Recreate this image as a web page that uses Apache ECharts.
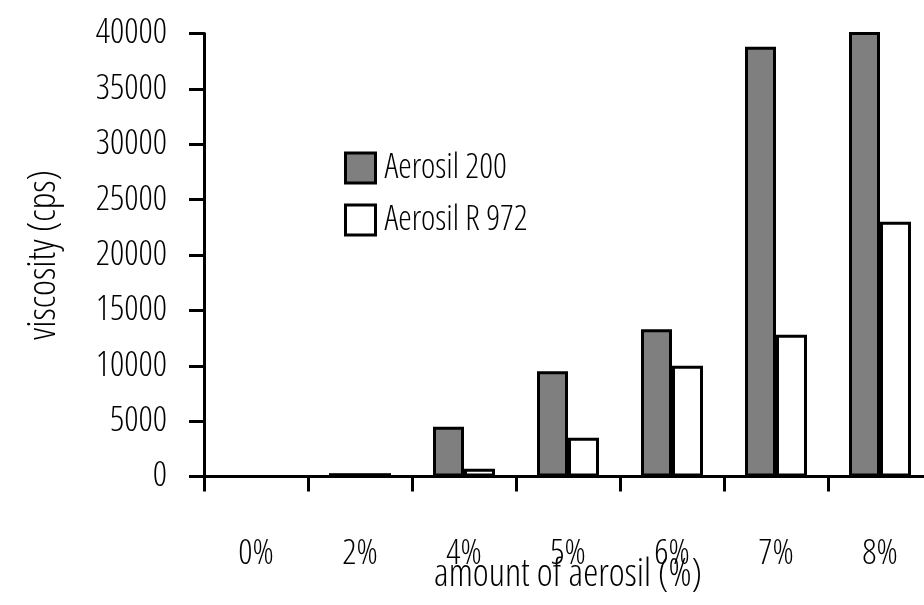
<!DOCTYPE html>
<html>
<head>
<meta charset="utf-8">
<script src="https://cdn.jsdelivr.net/npm/echarts@6/dist/echarts.min.js"></script>
<style>
html,body{margin:0;padding:0;background:#fff;}
#chart{width:924px;height:605px;}
</style>
</head>
<body>
<div id="chart"></div>
<script>
const categories = ['0%', '2%', '4%', '5%', '6%', '7%', '8%'];
const aerosil200 = [0, 300, 4500, 9500, 13300, 38800, 41000];
const aerosilR972 = [0, 300, 700, 3500, 10000, 12800, 23000];
const yTicks = [0, 5000, 10000, 15000, 20000, 25000, 30000, 35000, 40000];
const seriesNames = ['Aerosil 200', 'Aerosil R 972'];

const FONT = '"Open Sans", "Roboto", sans-serif';
const FW = '300 condensed';
const FS = 35;
const NAME_FS = 38;
const chart = echarts.init(document.getElementById('chart'), null, {renderer: 'canvas'});
chart.setOption({
  backgroundColor: '#fff',
  animation: false,
  textStyle: {fontFamily: FONT, fontWeight: FW, color: '#000'},
  grid: {left: 204, top: 33.5, width: 728, bottom: 128.5, containLabel: false, outerBoundsMode: 'none'},
  legend: {
    orient: 'vertical',
    left: 344,
    top: 151,
    padding: 0,
    itemWidth: 30,
    itemHeight: 30,
    itemGap: 18,
    icon: 'rect',
    itemStyle: {borderColor: '#000', borderWidth: 3},
    textStyle: {fontFamily: FONT, fontWeight: FW, fontSize: 34, lineHeight: 30, color: '#000', padding: [0, 0, 0, 4]},
    data: seriesNames
  },
  xAxis: {
    type: 'category',
    data: categories,
    name: 'amount of aerosil (%)',
    nameLocation: 'middle',
    nameGap: 80,
    nameMoveOverlap: false,
    nameTextStyle: {fontFamily: FONT, fontWeight: FW, fontSize: NAME_FS, color: '#000'},
    axisLine: {lineStyle: {color: '#000', width: 3}},
    axisTick: {show: true, alignWithLabel: false, length: 15, lineStyle: {color: '#000', width: 3}},
    axisLabel: {fontFamily: FONT, fontWeight: FW, fontSize: FS, color: '#000', margin: 60},
    splitLine: {show: false}
  },
  yAxis: {
    type: 'value',
    min: yTicks[0],
    max: yTicks[yTicks.length - 1],
    interval: yTicks[1] - yTicks[0],
    name: 'viscosity (cps)',
    nameLocation: 'middle',
    nameGap: 141,
    nameMoveOverlap: false,
    nameTextStyle: {fontFamily: FONT, fontWeight: FW, fontSize: NAME_FS, color: '#000'},
    axisLine: {show: true, lineStyle: {color: '#000', width: 3}},
    axisTick: {show: true, length: 15, lineStyle: {color: '#000', width: 3}},
    axisLabel: {fontFamily: FONT, fontWeight: FW, fontSize: FS, color: '#000', margin: 37,
      formatter: v => String(v)},
    splitLine: {show: false}
  },
  series: [
    {
      name: seriesNames[0],
      type: 'bar',
      data: aerosil200,
      barWidth: 31,
      barGap: '0%',
      clip: true,
      itemStyle: {color: '#7f7f7f', borderColor: '#000', borderWidth: 3}
    },
    {
      name: seriesNames[1],
      type: 'bar',
      data: aerosilR972,
      barWidth: 31,
      barGap: '0%',
      clip: true,
      itemStyle: {color: '#fff', borderColor: '#000', borderWidth: 3}
    }
  ]
});
</script>
</body>
</html>
